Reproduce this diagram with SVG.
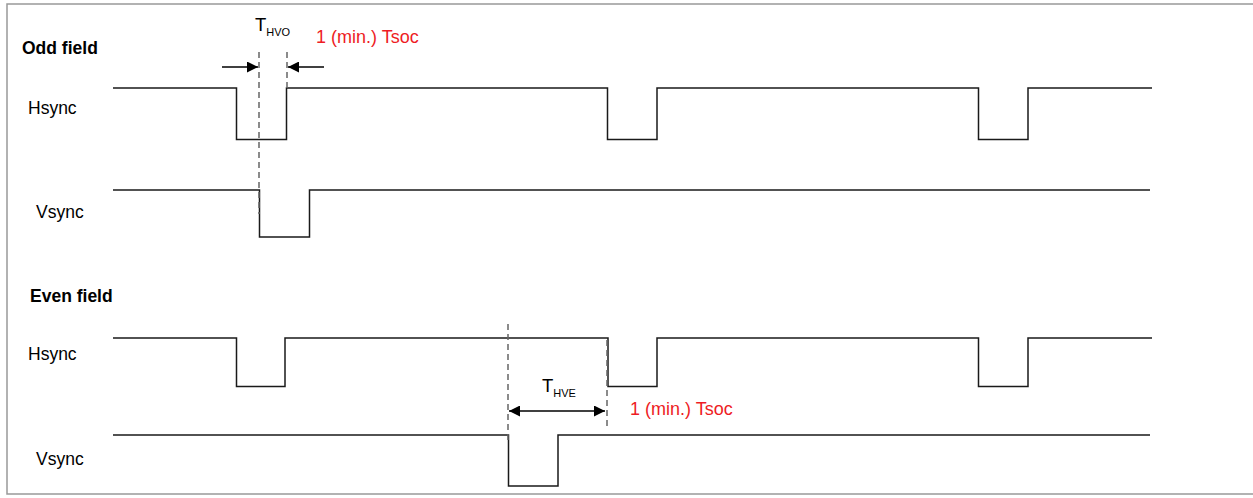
<svg xmlns="http://www.w3.org/2000/svg" width="1253" height="498" viewBox="0 0 1253 498">
<defs>
<marker id="ah" viewBox="0 0 10 10" refX="10" refY="5" markerWidth="11" markerHeight="11" markerUnits="userSpaceOnUse" orient="auto-start-reverse">
<path d="M0,0 L10,5 L0,10 z" fill="#000"/>
</marker>
<style>
.sig{fill:none;stroke:#1a1a1a;stroke-width:1.5}
.dash{fill:none;stroke:#666;stroke-width:1.5;stroke-dasharray:6,4}
.arr{fill:none;stroke:#000;stroke-width:1.3}
.lbl{font-family:"Liberation Sans",Arial,sans-serif;font-size:17.5px;fill:#000}
.b{font-weight:bold}
.t{font-family:"Liberation Sans",Arial,sans-serif;font-size:18.5px;fill:#000}
.sub{font-size:11px}
.red{font-family:"Liberation Sans",Arial,sans-serif;font-size:18px;fill:#ee1c24}
</style>
</defs>
<rect x="0" y="0" width="1253" height="498" fill="#fff"/>
<rect x="7" y="4" width="1252" height="490" fill="none" stroke="#999" stroke-width="1.5"/>
<g id="labels">
<text class="lbl b" x="22" y="54">Odd field</text>
<text class="lbl" x="28" y="114">Hsync</text>
<text class="lbl" x="36" y="218">Vsync</text>
<text class="lbl b" x="30" y="302">Even field</text>
<text class="lbl" x="28" y="360">Hsync</text>
<text class="lbl" x="36" y="465">Vsync</text>
</g>
<g id="odd-hsync"><path class="sig" d="M113,88 H236.5 V139.5 H286.5 V88 H607.5 V139.5 H657 V88 H978.5 V139.5 H1028 V88 H1152"/></g>
<g id="odd-vsync"><path class="sig" d="M113,190 H259.5 V237 H309.5 V190 H1150"/></g>
<g id="even-hsync"><path class="sig" d="M113,338 H236.5 V386.5 H285 V338 H608 V386.5 H657 V338 H978.5 V386.5 H1028 V338 H1152"/></g>
<g id="even-vsync"><path class="sig" d="M113,435 H508.5 V486 H558 V435 H1150"/></g>
<g id="connectors">
<line class="dash" x1="259" y1="52" x2="259" y2="214"/>
<line class="dash" x1="287" y1="52" x2="287" y2="88"/>
<line class="arr" x1="222" y1="67" x2="258" y2="67" marker-end="url(#ah)"/>
<line class="arr" x1="324" y1="67" x2="288" y2="67" marker-end="url(#ah)"/>
<line class="dash" x1="508" y1="324" x2="508" y2="440"/>
<line class="dash" x1="607" y1="340" x2="607" y2="428"/>
<line class="arr" x1="509" y1="411" x2="605" y2="411" marker-start="url(#ah)" marker-end="url(#ah)"/>
</g>
<g id="annotations">
<text class="t" x="255" y="31">T<tspan class="sub" dy="4.5">HVO</tspan></text>
<text class="red" x="316" y="43">1 (min.) Tsoc</text>
<text class="t" x="542" y="392">T<tspan class="sub" dy="4.5">HVE</tspan></text>
<text class="red" x="630" y="415">1 (min.) Tsoc</text>
</g>
</svg>
